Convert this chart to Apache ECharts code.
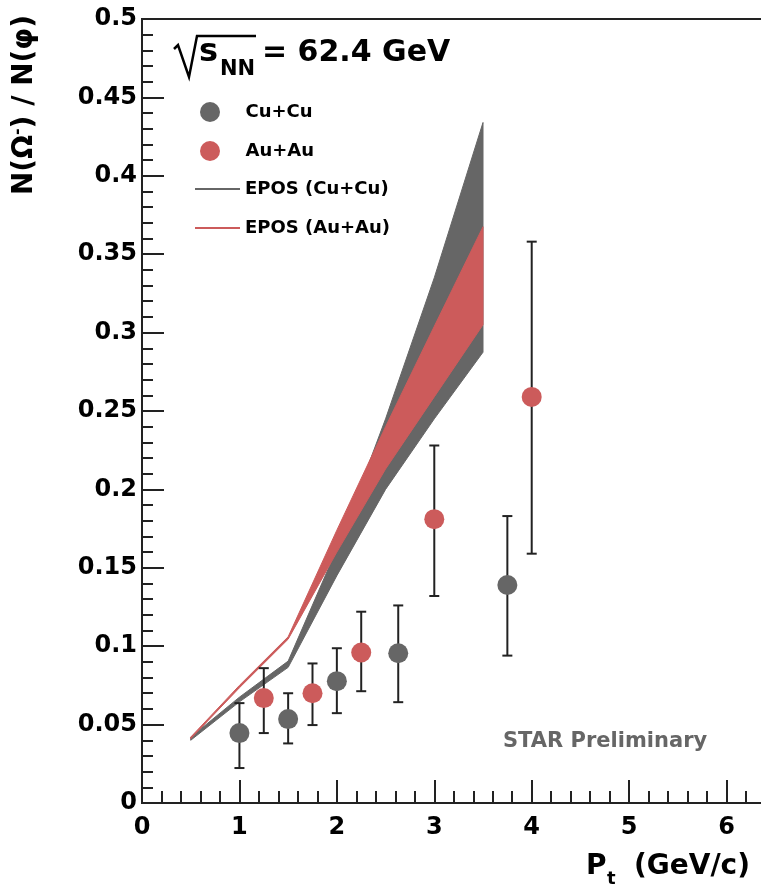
<!DOCTYPE html>
<html>
<head>
<meta charset="utf-8">
<script src="https://cdn.jsdelivr.net/npm/echarts@6/dist/echarts.min.js"></script>
<style>
html, body { margin: 0; padding: 0; background: #fff; }
#chart { width: 761px; height: 887px; }
</style>
</head>
<body>
<div id="chart"></div>
<script>
// measured points (STAR, 62.4 GeV)
const cuX  = [1.0, 1.5, 2.0, 2.63, 3.75];
const cuY  = [0.0446, 0.0535, 0.0777, 0.0955, 0.139];
const cuLo = [0.0223, 0.038, 0.0573, 0.0643, 0.094];
const cuHi = [0.0637, 0.070, 0.0987, 0.126, 0.183];

const auX  = [1.25, 1.75, 2.25, 3.0, 4.0];
const auY  = [0.0669, 0.070, 0.096, 0.181, 0.259];
const auLo = [0.0446, 0.0497, 0.0713, 0.132, 0.159];
const auHi = [0.086, 0.089, 0.122, 0.228, 0.358];

// EPOS bands
const eposX      = [0.5, 1.0, 1.5, 2.0, 2.5, 3.0, 3.5];
const eposCuLow  = [0.040, 0.0645, 0.0865, 0.145, 0.200, 0.245, 0.2875];
const eposCuHigh = [0.042, 0.0675, 0.0905, 0.162, 0.245, 0.335, 0.434];
const eposAuLow  = [0.041, 0.0735, 0.1045, 0.160, 0.213, 0.259, 0.305];
const eposAuHigh = [0.042, 0.0750, 0.1060, 0.174, 0.240, 0.304, 0.3675];

const GRAY = '#666666';
const RED = '#cc5b5b';
const FONT = 'DejaVu Sans';

function bandRender(xs, lo, hi) {
    return function (params, api) {
        if (params.dataIndex !== 0) return;
        let pts = [];
        for (let i = 0; i < xs.length; i++) pts.push(api.coord([xs[i], hi[i]]));
        for (let i = xs.length - 1; i >= 0; i--) pts.push(api.coord([xs[i], lo[i]]));
        let c = api.visual('color');
        return {
            type: 'polygon',
            shape: { points: pts },
            style: { fill: c, stroke: c, lineWidth: 1 }
        };
    };
}

function errorBarRender(params, api) {
    let x = api.value(0);
    let top = api.coord([x, api.value(2)]);
    let bot = api.coord([x, api.value(1)]);
    let cap = 5;
    let st = { stroke: '#222', lineWidth: 2 };
    return {
        type: 'group',
        children: [
            { type: 'line', shape: { x1: top[0], y1: top[1], x2: bot[0], y2: bot[1] }, style: st },
            { type: 'line', shape: { x1: top[0] - cap, y1: top[1], x2: top[0] + cap, y2: top[1] }, style: st },
            { type: 'line', shape: { x1: bot[0] - cap, y1: bot[1], x2: bot[0] + cap, y2: bot[1] }, style: st }
        ]
    };
}

const zip = (xs, ...cols) => xs.map((x, i) => [x].concat(cols.map(c => c[i])));

const legendText = { fontFamily: FONT, fontWeight: 'bold', fontSize: 18, color: '#000', lineHeight: 20 };

const option = {
    animation: false,
    backgroundColor: '#fff',
    grid: {
        left: 142, top: 19, width: 682, height: 784,
        show: true, borderColor: '#222', borderWidth: 2,
        outerBoundsMode: 'none'
    },
    legend: [{
        data: ['Cu+Cu', 'Au+Au'],
        orient: 'vertical', left: 195, top: 97,
        icon: 'circle', itemWidth: 45, itemHeight: 20, itemGap: 19,
        textStyle: Object.assign({ padding: [0, 0, 0, 8] }, legendText)
    }, {
        data: [{ name: 'EPOS (Cu+Cu)', icon: 'rect' }, { name: 'EPOS (Au+Au)', icon: 'rect' }],
        orient: 'vertical', left: 190, top: 174,
        itemWidth: 45, itemHeight: 2, itemGap: 19,
        textStyle: legendText
    }],
    xAxis: {
        type: 'value', min: 0, max: 7, interval: 1,
        axisLine: { lineStyle: { color: '#222', width: 2 } },
        axisTick: { inside: true, length: 23, lineStyle: { color: '#222', width: 2 } },
        minorTick: { show: true, splitNumber: 5, length: 12, lineStyle: { color: '#222', width: 2 } },
        splitLine: { show: false },
        axisLabel: { margin: 13, fontFamily: FONT, fontWeight: 'bold', fontSize: 24, color: '#000' }
    },
    yAxis: {
        type: 'value', min: 0, max: 0.5, interval: 0.05,
        axisLine: { show: true, lineStyle: { color: '#222', width: 2 } },
        axisTick: { show: true, inside: true, length: 22, lineStyle: { color: '#222', width: 2 } },
        minorTick: { show: true, splitNumber: 5, length: 11, lineStyle: { color: '#222', width: 2 } },
        splitLine: { show: false },
        axisLabel: { margin: 5, fontFamily: FONT, fontWeight: 'bold', fontSize: 24, color: '#000' }
    },
    series: [{
        name: 'EPOS (Cu+Cu)',
        type: 'custom',
        itemStyle: { color: GRAY },
        renderItem: bandRender(eposX, eposCuLow, eposCuHigh),
        encode: { x: 0, y: [1, 2] },
        data: zip(eposX, eposCuLow, eposCuHigh),
        z: 2
    }, {
        name: 'EPOS (Au+Au)',
        type: 'custom',
        itemStyle: { color: RED },
        renderItem: bandRender(eposX, eposAuLow, eposAuHigh),
        encode: { x: 0, y: [1, 2] },
        data: zip(eposX, eposAuLow, eposAuHigh),
        z: 3
    }, {
        name: 'cu-err',
        type: 'custom',
        renderItem: errorBarRender,
        encode: { x: 0, y: [1, 2] },
        data: zip(cuX, cuLo, cuHi),
        z: 4
    }, {
        name: 'au-err',
        type: 'custom',
        renderItem: errorBarRender,
        encode: { x: 0, y: [1, 2] },
        data: zip(auX, auLo, auHi),
        z: 4
    }, {
        name: 'Cu+Cu',
        type: 'scatter',
        symbol: 'circle', symbolSize: 20,
        itemStyle: { color: GRAY, opacity: 1 },
        data: zip(cuX, cuY),
        z: 5
    }, {
        name: 'Au+Au',
        type: 'scatter',
        symbol: 'circle', symbolSize: 20,
        itemStyle: { color: RED, opacity: 1 },
        data: zip(auX, auY),
        z: 5
    }],
    graphic: [
        // sqrt(s_NN) = 62.4 GeV
        { type: 'polyline', shape: { points: [[174, 49], [178, 45], [189, 77], [197, 36], [256, 36]] },
          style: { stroke: '#000', lineWidth: 2.5, fill: null } },
        { type: 'text', x: 199, y: 53, style: { text: 's', fontFamily: FONT, fontWeight: 'bold', fontSize: 32, fill: '#000', verticalAlign: 'middle' } },
        { type: 'text', x: 220, y: 70, style: { text: 'NN', fontFamily: FONT, fontWeight: 'bold', fontSize: 21, fill: '#000', verticalAlign: 'middle' } },
        { type: 'text', x: 262, y: 53, style: { text: '= 62.4 GeV', fontFamily: FONT, fontWeight: 'bold', fontSize: 30, fill: '#000', verticalAlign: 'middle' } },
        // y title
        { type: 'text', x: 25, y: 105, rotation: Math.PI / 2,
          style: { text: 'N(Ω{sup|-}) / N(φ)', align: 'center', verticalAlign: 'middle',
                   fontFamily: FONT, fontWeight: 'bold', fontSize: 28, fill: '#000',
                   rich: { sup: { fontFamily: FONT, fontWeight: 'bold', fontSize: 16, verticalAlign: 'top', lineHeight: 30, fill: '#000' } } } },
        // x title
        { type: 'text', x: 586, y: 867, style: { text: 'P', fontFamily: FONT, fontWeight: 'bold', fontSize: 28, fill: '#000', verticalAlign: 'middle' } },
        { type: 'text', x: 607, y: 879, style: { text: 't', fontFamily: FONT, fontWeight: 'bold', fontSize: 18, fill: '#000', verticalAlign: 'middle' } },
        { type: 'text', x: 750, y: 867, style: { text: '(GeV/c)', fontFamily: FONT, fontWeight: 'bold', fontSize: 28, fill: '#000', align: 'right', verticalAlign: 'middle' } },
        // preliminary tag
        { type: 'text', x: 503, y: 742, style: { text: 'STAR Preliminary', fontFamily: FONT, fontWeight: 'bold', fontSize: 21, fill: GRAY, verticalAlign: 'middle' } }
    ]
};

const chart = echarts.init(document.getElementById('chart'));
chart.setOption(option);
</script>
</body>
</html>
